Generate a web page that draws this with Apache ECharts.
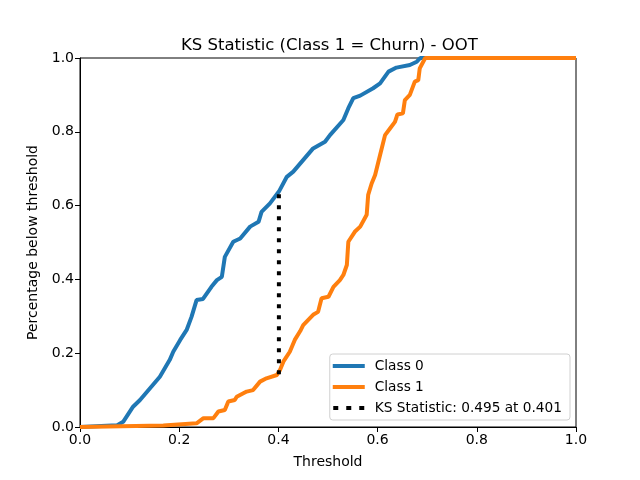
<!DOCTYPE html>
<html>
<head>
<meta charset="utf-8">
<script src="https://cdn.jsdelivr.net/npm/echarts@6/dist/echarts.min.js"></script>
<style>
  html, body { margin: 0; padding: 0; background: #fff; }
  #main { width: 640px; height: 480px; }
</style>
</head>
<body>
<div id="main"></div>
<script>
// 读图得到的数据
var class0X = [0, 0.075, 0.087, 0.107, 0.121, 0.161, 0.181, 0.188, 0.202, 0.215, 0.225, 0.235, 0.248, 0.265, 0.276, 0.286, 0.292, 0.309, 0.323, 0.343, 0.360, 0.366, 0.383, 0.401, 0.417, 0.430, 0.470, 0.494, 0.504, 0.531, 0.541, 0.551, 0.565, 0.591, 0.605, 0.622, 0.638, 0.665, 0.679, 0.686, 1.0];
var class0Y = [0, 0.005, 0.014, 0.055, 0.073, 0.136, 0.182, 0.204, 0.236, 0.263, 0.299, 0.344, 0.347, 0.380, 0.398, 0.407, 0.461, 0.502, 0.511, 0.543, 0.556, 0.583, 0.606, 0.638, 0.678, 0.692, 0.755, 0.773, 0.791, 0.832, 0.864, 0.891, 0.898, 0.918, 0.931, 0.963, 0.974, 0.981, 0.990, 1.0, 1.0];
var class1X = [0, 0.168, 0.235, 0.249, 0.269, 0.279, 0.292, 0.299, 0.312, 0.316, 0.336, 0.349, 0.363, 0.376, 0.397, 0.403, 0.410, 0.423, 0.433, 0.444, 0.450, 0.470, 0.480, 0.487, 0.501, 0.511, 0.524, 0.531, 0.538, 0.541, 0.554, 0.565, 0.578, 0.581, 0.588, 0.595, 0.605, 0.615, 0.625, 0.635, 0.640, 0.651, 0.655, 0.665, 0.675, 0.682, 0.685, 0.696, 1.0];
var class1Y = [0, 0.004, 0.010, 0.024, 0.024, 0.042, 0.046, 0.069, 0.073, 0.082, 0.096, 0.100, 0.123, 0.132, 0.141, 0.154, 0.177, 0.204, 0.236, 0.260, 0.276, 0.304, 0.312, 0.349, 0.353, 0.380, 0.398, 0.412, 0.439, 0.502, 0.529, 0.543, 0.575, 0.629, 0.660, 0.683, 0.737, 0.791, 0.809, 0.827, 0.847, 0.850, 0.886, 0.900, 0.936, 0.940, 0.972, 1.0, 1.0];
var ksAt = 0.401;
var ksLow = 0.143;
var ksHigh = 0.638;
var seriesNames = ['Class 0', 'Class 1', 'KS Statistic: 0.495 at 0.401'];

function pairs(xs, ys) {
    var out = [];
    for (var i = 0; i < xs.length; i++) out.push([xs[i], ys[i]]);
    return out;
}

var myChart = echarts.init(document.getElementById('main'));
var font = 'DejaVu Sans';
// 图例图标：实线和点线
var solidIcon = 'path://M0,0 L32,0 L32,4 L0,4 Z';
var dotIcon = 'path://M0,0 L5,0 L5,4 L0,4 Z M13,0 L18,0 L18,4 L13,4 Z M26,0 L31,0 L31,4 L26,4 Z';

var option = {
    animation: false,
    backgroundColor: '#fff',
    textStyle: { fontFamily: font },
    title: {
        text: 'KS Statistic (Class 1 = Churn) - OOT',
        left: 176,
        top: 32,
        textStyle: { fontFamily: font, fontSize: 16.5, fontWeight: 'normal', color: '#000' }
    },
    grid: {
        left: 80, right: 64, top: 58, bottom: 53,
        show: true, borderColor: '#000', borderWidth: 1
    },
    legend: {
        orient: 'vertical',
        right: 70, bottom: 60,
        data: [
            { name: seriesNames[0], icon: solidIcon },
            { name: seriesNames[1], icon: solidIcon },
            { name: seriesNames[2], icon: dotIcon }
        ],
        itemWidth: 32, itemHeight: 4,
        itemGap: 7,
        padding: [5, 8, 5, 3],
        borderColor: '#d0d0d0', borderWidth: 1, borderRadius: 3,
        backgroundColor: 'rgba(255,255,255,0.8)',
        textStyle: { fontFamily: font, fontSize: 13.7, color: '#000', padding: [0, 0, 0, 5] }
    },
    xAxis: {
        type: 'value', min: 0, max: 1, interval: 0.2,
        name: 'Threshold', nameLocation: 'middle', nameGap: 28,
        nameTextStyle: { fontFamily: font, fontSize: 14, color: '#000' },
        axisLine: { show: true, lineStyle: { color: '#000', width: 1 } },
        axisTick: { show: true, length: 5, lineStyle: { color: '#000' } },
        axisLabel: { fontFamily: font, fontSize: 14, color: '#000', margin: 6,
            formatter: function (v) { return v.toFixed(1); } },
        splitLine: { show: false }
    },
    yAxis: {
        type: 'value', min: 0, max: 1, interval: 0.2,
        name: 'Percentage below threshold', nameLocation: 'middle', nameGap: 39,
        nameTextStyle: { fontFamily: font, fontSize: 14, color: '#000' },
        axisLine: { show: true, lineStyle: { color: '#000', width: 1 } },
        axisTick: { show: true, length: 5, lineStyle: { color: '#000' } },
        axisLabel: { fontFamily: font, fontSize: 14, color: '#000', margin: 6,
            formatter: function (v) { return v.toFixed(1); } },
        splitLine: { show: false }
    },
    series: [
        {
            name: seriesNames[0], type: 'line', showSymbol: false, symbol: 'none',
            data: pairs(class0X, class0Y),
            lineStyle: { color: '#1f77b4', width: 4 }, itemStyle: { color: '#1f77b4' }
        },
        {
            name: seriesNames[1], type: 'line', showSymbol: false, symbol: 'none',
            data: pairs(class1X, class1Y),
            lineStyle: { color: '#ff7f0e', width: 4 }, itemStyle: { color: '#ff7f0e' }
        },
        {
            name: seriesNames[2], type: 'line', showSymbol: false, symbol: 'none',
            data: [[ksAt, ksLow], [ksAt, ksHigh]],
            lineStyle: { color: '#000', width: 4, type: [4, 7], cap: 'butt' },
            itemStyle: { color: '#000' }
        }
    ]
};

myChart.setOption(option);
</script>
</body>
</html>
